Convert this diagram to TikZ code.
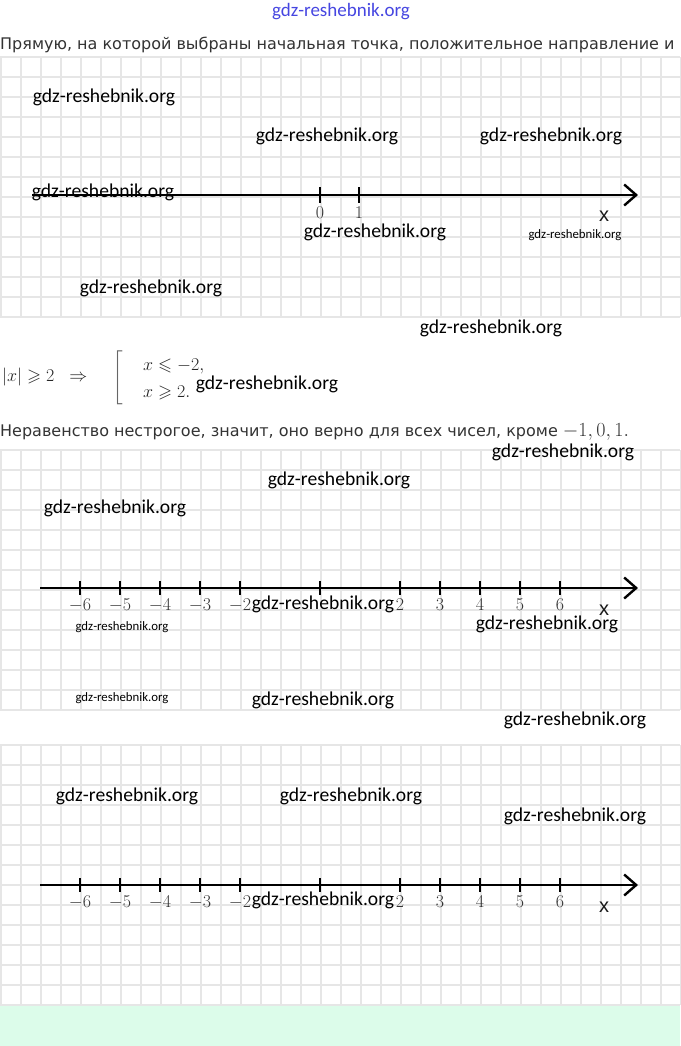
\RequirePackage{fix-cm}
\documentclass[tikz,border=0pt]{standalone}
\usepackage{amsmath,amssymb}
\usepackage{fontspec}
\newfontfamily\wmfont{Carlito}
\newfontfamily\txtfont{DejaVu Sans}
\newfontfamily\axfont{Liberation Sans}
\usetikzlibrary{arrows.meta,calc}

\definecolor{gridgray}{RGB}{230,230,230}
\definecolor{mint}{RGB}{220,252,234}
\definecolor{wmblue}{RGB}{70,70,225}
\definecolor{txtgray}{RGB}{51,51,51}

\tikzset{
	gridln/.style={gridgray, line width=1.4pt},
	numaxis/.style={line width=2.6pt, -{Straight Barb[length=12pt,width=21pt,line width=2.4pt]}},
	tickmk/.style={line width=2.6pt},
	ticklbl/.style={inner sep=0pt, text=black!80, font=\fontsize{18}{18}\selectfont},
	xlbl/.style={inner sep=0pt, text=black!90, font=\axfont\fontsize{20}{20}\selectfont},
	wm/.style={inner sep=0pt, font=\wmfont\fontsize{19.6}{20}\selectfont},
	wmsmall/.style={inner sep=0pt, font=\wmfont\fontsize{12.8}{13}\selectfont},
	txtline/.style={inner sep=0pt, anchor=west, text=txtgray, font=\txtfont\fontsize{16}{16}\selectfont},
	mathln/.style={inner sep=0pt, anchor=west, text=black!85, font=\fontsize{18}{18}\selectfont}
}

\begin{document}
\begin{tikzpicture}[x=1pt,y=-1pt]
				  \useasboundingbox (0,0) rectangle (680,1046);
				  \fill[white] (0,0) rectangle (680,1046);
				  \fill[mint] (0,1006) rectangle (680,1046);
				  %GRID
				  \foreach \top in {57,450,745}{
					\foreach \k in {0,...,13} \draw[gridln] (0,\top+20*\k) -- (680,\top+20*\k);
					\foreach \k in {0,...,34} \draw[gridln] (20*\k+1,\top) -- (20*\k+1,\top+260);
				  }
				  %TEXT
				  \node[wm, text=wmblue, font=\wmfont\fontsize{19}{19}\selectfont] (site) at (341,12) {gdz-reshebnik.org};
				  \node[txtline] (line1) at (0,45) {Прямую, на которой выбраны начальная точка, положительное направление и};
				  \node[mathln] (lhs) at (2,377) {$|x|\geqslant 2\;\;\Rightarrow$};
				  \node[mathln, text=black!60] (brk) at (112,378) {$\left[\vrule height 23pt depth 23pt width 0pt\right.$};
				  \node[mathln] (cond1) at (143,366) {$x\leqslant -2,$};
				  \node[mathln] (cond2) at (143,393) {$x\geqslant 2.$};
				  \node[txtline] (line2) at (0,432) {Неравенство нестрогое, значит, оно верно для всех чисел, кроме {\fontsize{20}{20}\selectfont$-1,0,1.$}};
				  %PRYAMAYA 1
				  \coordinate (s1) at (32,195);
				  \coordinate (e1) at (638,195);
				  \draw[numaxis] (s1) -- (e1);
				  \foreach \t/\n in {320/0,359/1}{
					\draw[tickmk] (\t,187) -- (\t,203);
					\node[ticklbl] (p\n) at (\t,213) {$\n$};
				  }
				  \node[xlbl] (x1) at (604,216) {x};
				  %PRYAMYE 2 I 3
				  \foreach \ay/\ly/\xy [count=\j from 2] in {588/605/610,885/902/907}{
					\coordinate (s\j) at (40,\ay);
					\coordinate (e\j) at (638,\ay);
					\draw[numaxis] (s\j) -- (e\j);
					\foreach \t in {80,120,160,200,240,320,400,440,480,520,560} \draw[tickmk] (\t,\ay-7) -- (\t,\ay+7);
					\foreach \t/\n in {80/-6,120/-5,160/-4,200/-3,240/-2,400/2,440/3,480/4,520/5,560/6}
						\node[ticklbl] (l\j\t) at (\t,\ly) {$\n$};
					\node[xlbl] (x\j) at (604,\xy) {x};
				  }
				  %WATERMARKS
				  \foreach \cx/\cy [count=\i] in {104/97,327/136,551/136,103/192,375/232,151/288,491/328,267/384,563/452,339/480,115/508,323/604,547/624,323/700,575/720,127/796,351/796,575/816,323/900}
					\node[wm] (wm\i) at (\cx,\cy) {gdz-reshebnik.org};
				  \foreach \cx/\cy [count=\i] in {575/235,122/627,122/698}
					\node[wmsmall] (ws\i) at (\cx,\cy) {gdz-reshebnik.org};
				  \end{tikzpicture}
\end{document}
